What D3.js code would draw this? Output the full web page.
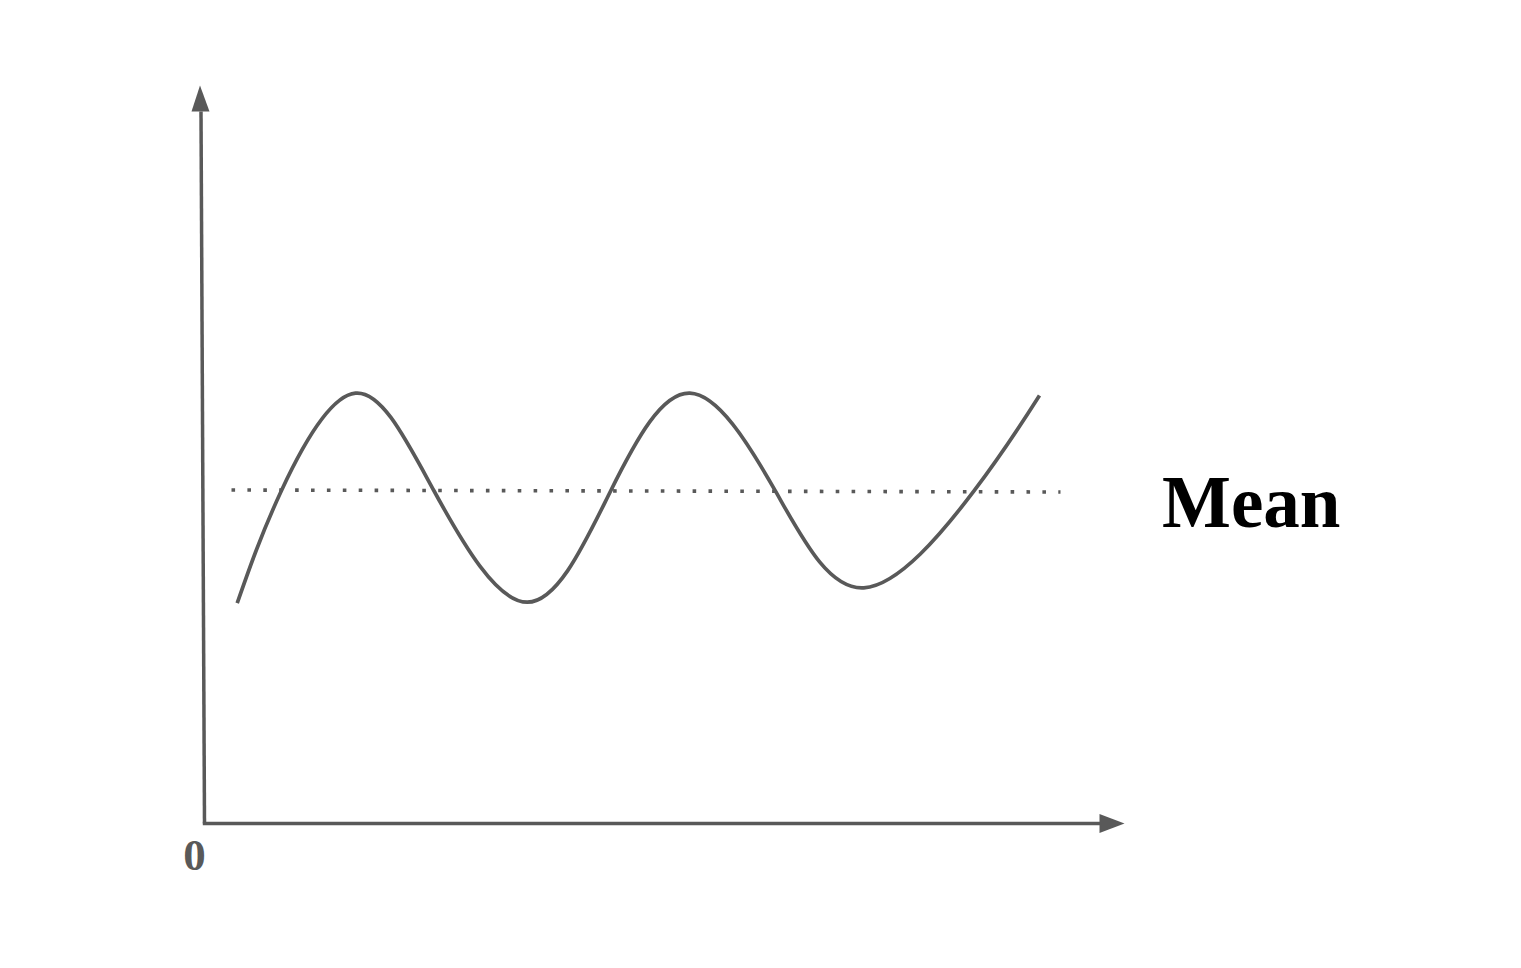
<!DOCTYPE html>
<html>
<head>
<meta charset="utf-8">
<script src="https://cdn.jsdelivr.net/npm/d3@7"></script>
<style>
html,body{margin:0;padding:0;background:#fff;}
svg{display:block;}
</style>
</head>
<body>
<script>
// Data (chart units: x right from origin, y up from origin)
const curveX = [32.7, 77, 151, 229.3, 322.7, 406, 485.3, 571, 659.3, 769.3, 835];
const curveY = [220.3, 333, 430.3, 333, 221.3, 332.3, 430.3, 332.3, 235.7, 332.3, 428];
const meanX = [27, 856];
const meanY = [333.5, 331.5];
const originLabel = "0";
const meanLabel = "Mean";

const W = 1521, H = 968;
const svg = d3.select("body").append("svg").attr("width", W).attr("height", H);

const x = d3.scaleLinear().domain([0, 920]).range([204.5, 1124.5]);
const y = d3.scaleLinear().domain([0, 738]).range([823.5, 85.5]);

const axisColor = "#595959";

// Y axis (slightly tilted, as in the reference)
svg.append("line")
  .attr("x1", x(0)).attr("y1", y(0))
  .attr("x2", x(0) - 3.5).attr("y2", y(712))
  .attr("stroke", axisColor).attr("stroke-width", 3.5);
svg.append("path")
  .attr("d", `M${x(0)-4.5},${y(738)} L${x(0)-13},${y(712)} L${x(0)+5},${y(712)} Z`)
  .attr("fill", axisColor);

// X axis
svg.append("line")
  .attr("x1", x(0) - 1.7).attr("y1", y(0))
  .attr("x2", x(897)).attr("y2", y(0))
  .attr("stroke", axisColor).attr("stroke-width", 3.5);
svg.append("path")
  .attr("d", `M${x(920)},${y(0)} L${x(895)},${y(0)+9.5} L${x(895)},${y(0)-9.5} Z`)
  .attr("fill", axisColor);

// Mean dotted line
svg.append("line")
  .attr("x1", x(meanX[0])).attr("y1", y(meanY[0]))
  .attr("x2", x(meanX[1])).attr("y2", y(meanY[1]))
  .attr("stroke", axisColor).attr("stroke-width", 3.6)
  .attr("stroke-dasharray", "3.6 12.3");

// Curve
const pts = curveX.map((d, i) => [d, curveY[i]]);
const line = d3.line().x(d => x(d[0])).y(d => y(d[1])).curve(d3.curveNatural);
svg.append("path")
  .attr("d", line(pts))
  .attr("fill", "none")
  .attr("stroke", axisColor)
  .attr("stroke-width", 3.7)
  .attr("stroke-linecap", "butt");

// Labels
svg.append("text")
  .attr("x", x(0) - 10).attr("y", y(0) + 46.5)
  .attr("text-anchor", "middle")
  .attr("font-family", "'Liberation Serif','Times New Roman',serif")
  .attr("font-weight", "bold")
  .attr("font-size", 45)
  .attr("fill", axisColor)
  .text(originLabel);

svg.append("text")
  .attr("x", 1162).attr("y", 527)
  .attr("font-family", "'Liberation Serif','Times New Roman',serif")
  .attr("font-weight", "bold")
  .attr("font-size", 73)
  .attr("fill", "#000")
  .text(meanLabel);
</script>
</body>
</html>
